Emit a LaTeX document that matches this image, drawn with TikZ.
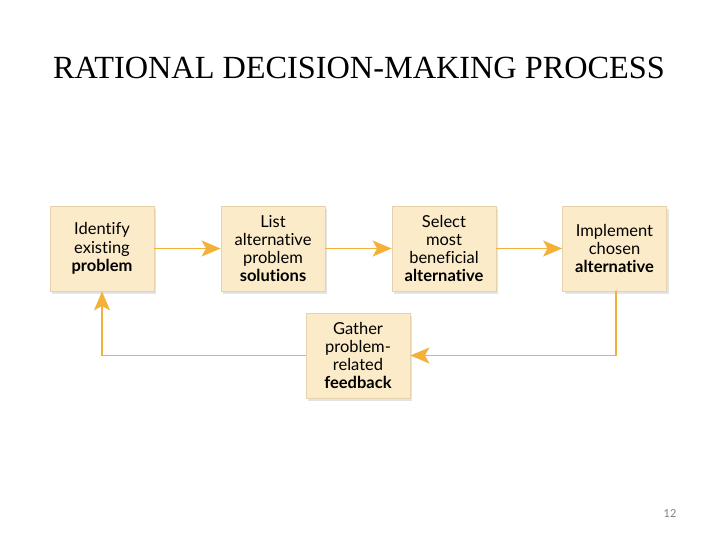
\documentclass[tikz,border=0pt]{standalone}
\usepackage{fontspec}
\setmainfont{Liberation Serif}
\newfontfamily\boxfont[RawFeature={-liga;-clig}]{Lato}
\usetikzlibrary{arrows.meta,shadows}
\definecolor{boxfill}{HTML}{FBEBC8}
\definecolor{boxline}{HTML}{E6D3AC}
\definecolor{arr}{HTML}{F4B13A}
\tikzset{
  stepbox/.style={draw=boxline, line width=0.8pt, fill=boxfill, minimum width=104pt, minimum height=85pt,
    inner sep=0pt, align=center, font=\boxfont\fontsize{16.5}{18.3}\selectfont,
    drop shadow={shadow xshift=2pt, shadow yshift=-3pt, opacity=0.3, fill=gray!70}},
  flow/.style={draw=arr, line width=1.6pt, -{Stealth[length=19pt,width=16pt,inset=4.5pt]}}
}
\begin{document}
\begin{tikzpicture}[x=1pt,y=-1pt]
\useasboundingbox (0,0) rectangle (720,540);
\node (title) at (359,68) {\fontsize{32.3}{36}\selectfont RATIONAL DECISION-MAKING PROCESS};
\node[stepbox] (b1) at (102,248.5) {Identify\\existing\\\textbf{problem}};
\node[stepbox] (b2) at (273,248.5) {List\\alternative\\problem\\\textbf{solutions}};
\node[stepbox] (b3) at (444,248.5) {Select\\most\\beneficial\\\textbf{alternative}};
\node[stepbox] (b4) at (614.5,248.5) {Implement\\chosen\\\textbf{alternative}};
\node[stepbox] (b5) at (358,355.5) {Gather\\problem-\\related\\\textbf{feedback}};
\draw[flow] (b1.east) -- (b2.west);
\draw[flow] (b2.east) -- (b3.west);
\draw[flow] (b3.east) -- (b4.west);
\draw[flow] (b4.south -| 616,0) |- (b5.east);
\draw[flow] (b5.west) -| (b1.south);
\node[text=gray, font=\fontsize{11}{13}\selectfont\boxfont] (pg) at (670,514) {12};
\end{tikzpicture}
\end{document}
